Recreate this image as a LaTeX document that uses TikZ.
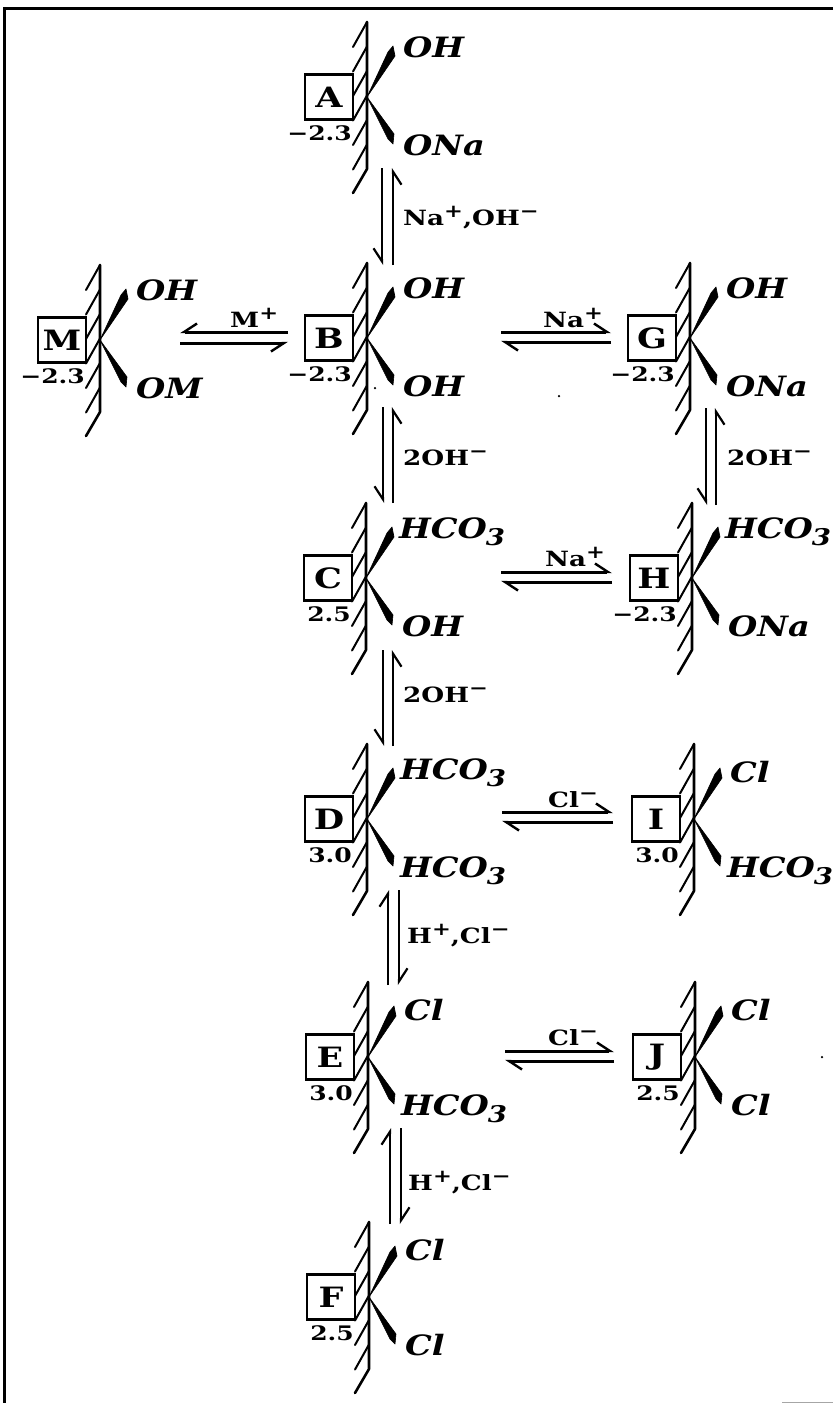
\documentclass[tikz,border=0pt]{standalone}
\usepackage{fontspec}
\usetikzlibrary{arrows.meta}
\newfontfamily\slabup[FakeStretch=1.25]{DejaVu Serif}
\newfontfamily\slabit[FakeStretch=1.2]{DejaVu Serif}
\newcommand\fsize[1]{\fontsize{#1}{#1}\selectfont}
\newcommand\hcothree{\hspace{-3pt}HCO\hspace{-1pt}\raisebox{-7pt}{\fsize{23}3}}
\newcommand\clup{\raisebox{-3pt}{Cl}}
\newcommand\upmark[1]{\raisebox{8pt}{\fsize{18}#1}}
\tikzset{
  frameline/.style={line width=3pt,black},
  wallline/.style={line width=2.6pt,black,line cap=round,line join=round},
  hatchline/.style={line width=2pt,black,line cap=round},
  wedgefill/.style={fill=black,draw=black,line width=.6pt,line join=round},
  letterbox/.style={draw=black,line width=2.2pt,fill=white,minimum width=48pt,minimum height=45pt,inner sep=0pt,font=\slabup\bfseries\fsize{28}},
  valuelabel/.style={anchor=base east,inner sep=0pt,font=\slabup\bfseries\fsize{20}},
  substlabel/.style={anchor=base west,inner sep=0pt,font=\slabit\bfseries\itshape\fsize{28}},
  reaclabel/.style={anchor=base west,inner sep=0pt,font=\slabup\bfseries\fsize{21}},
  harpR/.style={line width=2.2pt,black,-{Straight Barb[right,length=13pt,width=17pt,line width=2.2pt]}},
  harpL/.style={line width=2.2pt,black,-{Straight Barb[left,length=13pt,width=17pt,line width=2.2pt]}},
  flatR/.style={line width=3pt,black,-{Straight Barb[right,length=13pt,width=17pt,line width=2.4pt]}},
  flatL/.style={line width=3pt,black,-{Straight Barb[left,length=13pt,width=17pt,line width=2.4pt]}},
  speck/.style={fill=black,inner sep=0pt,minimum size=2.5pt,circle,draw=none}
}
% name, wall x, apex y, letter, value, upper text, lower text
\newcommand\surfunit[7]{%
  \coordinate (#1apex) at (#2,#3);
  \draw[wallline] (#2,#3-75) -- (#2,#3+72) -- (#2-14,#3+96);
  \foreach \hy in {-75,-50.5,-26,-1.5,23,47.5}
    \draw[hatchline] (#2,#3+\hy) -- (#2-14,#3+\hy+25);
  \fill[wedgefill] (#1apex) -- (#2+21,#3-45) -- (#2+26,#3-51) -- (#2+28,#3-41) -- cycle;
  \fill[wedgefill] (#1apex) -- (#2+21,#3+42) -- (#2+26,#3+47) -- (#2+27,#3+37) -- cycle;
  \node[letterbox] (#1) at (#2-38,#3) {#4};
  \node[valuelabel] (#1val) at (#2-15,#3+43) {#5};
  \node[substlabel] (#1up) at (#2+36,#3-40) {#6};
  \node[substlabel] (#1low) at (#2+36,#3+58) {#7};
}
% name, x1, y1, x2, y2 : end points of the first line; second offset
\newcommand\eqpair[8]{%
  \coordinate (#1a) at (#2,#3); \coordinate (#1b) at (#4,#5);
  \coordinate (#1c) at (#2+#6,#3+#7); \coordinate (#1d) at (#4+#6,#5+#7);
  \draw[#8] (#1a) -- (#1b);
  \draw[#8] (#1d) -- (#1c);
}
\begin{document}
\begin{tikzpicture}[x=1pt,y=-1pt]
\useasboundingbox (0,0) rectangle (833,1403);
\coordinate (frameTL) at (4,8);
\coordinate (frameTR) at (833,8);
\coordinate (frameBL) at (4,1403);
\draw[frameline] (frameTR) -- (frameTL) -- (frameBL);
\coordinate (scanA) at (782,1402);
\coordinate (scanB) at (833,1402);
\draw[gray!70,line width=1pt] (scanA) -- (scanB);

\surfunit{A}{367}{97}{A}{−2.3}{OH}{ONa}
\surfunit{M}{100}{340}{M}{−2.3}{OH}{OM}
\surfunit{B}{367}{338}{B}{−2.3}{OH}{OH}
\surfunit{G}{690}{338}{G}{−2.3}{OH}{ONa}
\surfunit{C}{366}{578}{C}{2.5}{\hcothree}{OH}
\surfunit{H}{692}{578}{H}{−2.3}{\hcothree}{ONa}
\surfunit{D}{367}{819}{D}{3.0}{\hcothree}{\hcothree}
\surfunit{I}{694}{819}{I}{3.0}{\clup}{\hcothree}
\surfunit{E}{368}{1057}{E}{3.0}{\clup}{\hcothree}
\surfunit{J}{695}{1057}{J}{2.5}{\clup}{Cl}
\surfunit{F}{369}{1297}{F}{2.5}{\clup}{Cl}

\eqpair{ab}{382}{168}{382}{265}{11}{0}{harpR}
\eqpair{bc}{383}{407}{383}{503}{10}{0}{harpR}
\eqpair{gh}{706}{408}{706}{505}{10}{0}{harpR}
\eqpair{cd}{383}{650}{383}{746}{10}{0}{harpR}
\eqpair{ed}{388}{985}{388}{890}{11}{0}{harpL}
\eqpair{fe}{390}{1224}{390}{1128}{11}{0}{harpL}
\eqpair{bm}{288}{332}{180}{332}{0}{11}{flatR}
\eqpair{bg}{501}{332}{611}{332}{0}{10}{flatL}
\eqpair{ch}{501}{572}{612}{572}{0}{10}{flatL}
\eqpair{di}{502}{812}{613}{812}{0}{10}{flatL}
\eqpair{ej}{505}{1051}{614}{1051}{0}{10}{flatL}

\node[reaclabel] (labAB) at (403,225) {Na\upmark{+},OH\upmark{−}};
\node[reaclabel] (labBC) at (403,465) {2OH\upmark{−}};
\node[reaclabel] (labGH) at (727,465) {2OH\upmark{−}};
\node[reaclabel] (labCD) at (403,702) {2OH\upmark{−}};
\node[reaclabel] (labDE) at (407,943) {H\upmark{+},Cl\upmark{−}};
\node[reaclabel] (labEF) at (408,1190) {H\upmark{+},Cl\upmark{−}};
\node[reaclabel] (labBM) at (230,327) {M\upmark{+}};
\node[reaclabel] (labBG) at (543,327) {Na\upmark{+}};
\node[reaclabel] (labCH) at (545,566) {Na\upmark{+}};
\node[reaclabel] (labDI) at (548,807) {Cl\upmark{−}};
\node[reaclabel] (labEJ) at (548,1045) {Cl\upmark{−}};

\node[speck] (speckA) at (375,388) {};
\node[speck] (speckB) at (559,396) {};
\node[speck] (speckC) at (822,1057) {};
\end{tikzpicture}
\end{document}
